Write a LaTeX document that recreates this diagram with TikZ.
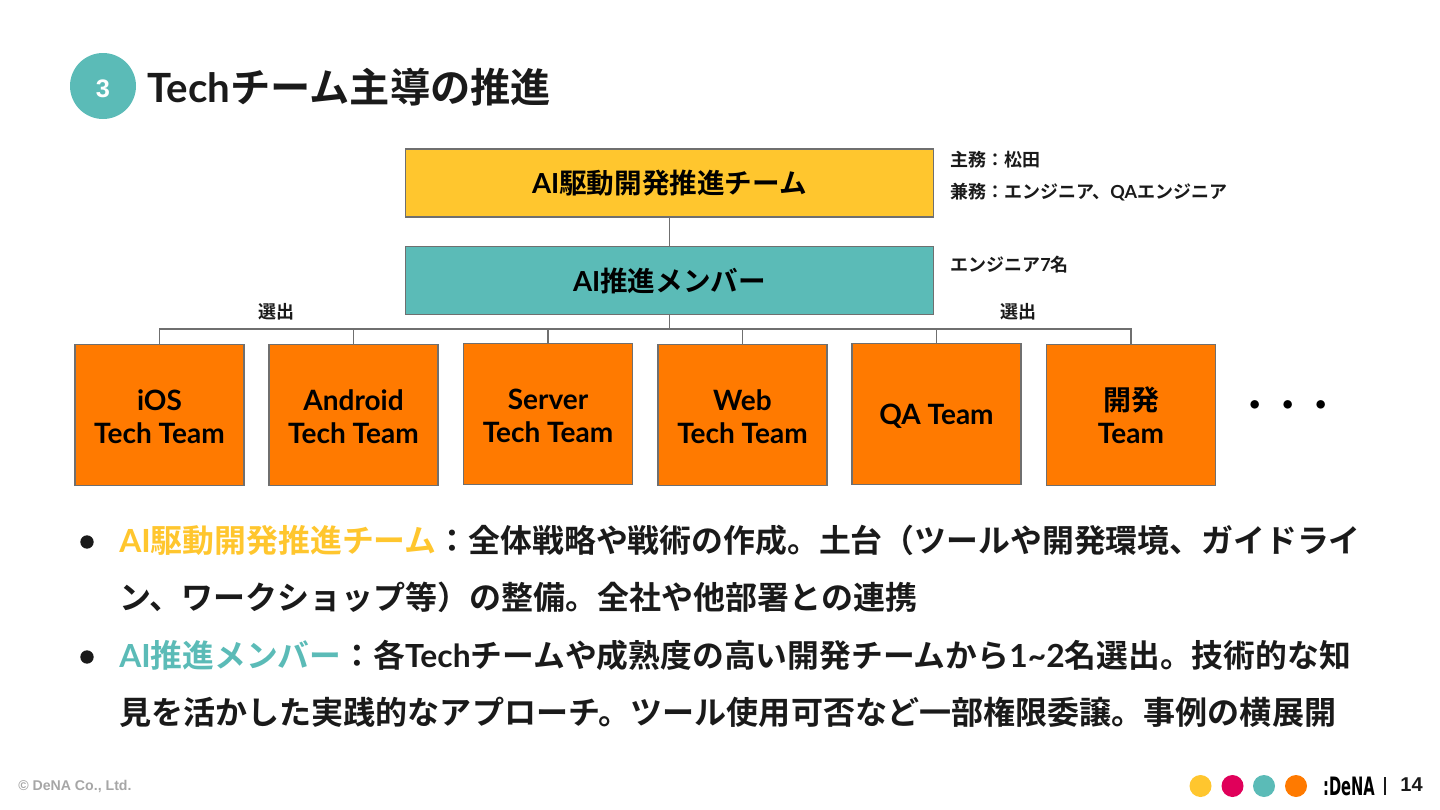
\documentclass[tikz,border=0pt]{standalone}
\usepackage{fontspec}
\setmainfont{Noto Sans CJK JP Bold}
\newfontfamily\latinfont{Liberation Sans}[BoldFont={Liberation Sans Bold}]
\newfontfamily\labelfont{Lato Bold}
\newfontfamily\logofont{DejaVu Sans Bold}[FakeStretch=0.58]
\newcommand{\lt}[1]{{\labelfont #1}}
\newcommand{\teamstrut}{\rule{0pt}{18.5pt}}
\definecolor{deyellow}{HTML}{FFC62E}
\definecolor{deteal}{HTML}{5BBBB7}
\definecolor{deorange}{HTML}{FF7A00}
\definecolor{depink}{HTML}{E0005A}
\definecolor{deink}{HTML}{1A1A1A}
\definecolor{degrey}{HTML}{6F6F6F}
\tikzset{
    teambox/.style={draw=degrey,line width=1.2pt,fill=deorange,minimum width=126.5pt,minimum height=106pt,inner sep=0pt,align=center,font=\fontsize{21}{25}\selectfont,text=black},
    headbox/.style={draw=degrey,line width=1.2pt,minimum width=396pt,minimum height=51pt,inner sep=0pt,font=\fontsize{20.7}{24}\selectfont,text=black},
    note/.style={anchor=west,inner sep=0pt,font=\fontsize{13.5}{16}\selectfont,text=deink},
    bodyline/.style={anchor=west,inner sep=0pt,font=\fontsize{24}{29}\selectfont,text=deink},
    bulletmark/.style={circle,fill=deink,minimum size=10pt,inner sep=0pt},
    link/.style={degrey,line width=1.2pt},
    dot/.style={circle,minimum size=16.5pt,inner sep=0pt}
}
\begin{document}
\begin{tikzpicture}[x=0.75pt,y=-0.75pt]
    \useasboundingbox (0,0) rectangle (1440,810);
    % title
    \node [circle,fill=deteal,minimum size=49.5pt,inner sep=0pt,text=white,font=\latinfont\bfseries\fontsize{19}{19}\selectfont] (num) at (103,86){\rule{0pt}{17pt}3};
    \node [anchor=west,inner sep=0pt,text=deink,font=\fontsize{30.2}{34}\selectfont] (title) at (147,87){\lt{Tech}チーム主導の推進};
    % head boxes
    \node [headbox,fill=deyellow] (lead) at (669.5,183){\lt{AI}駆動開発推進チーム};
    \node [headbox,fill=deteal] (member) at (669.5,280.5){\lt{AI}推進メンバー};
    \node [note] (note1) at (950,160){主務：松田};
    \node [note] (note2) at (950,192){兼務：エンジニア、\lt{QA}エンジニア};
    \node [note] (note3) at (950,265){エンジニア\lt{7}名};
    % teams
    \node [teambox] (ios) at (159.5,415){\teamstrut\lt{iOS}\\\lt{Tech Team}};
    \node [teambox] (android) at (353.5,415){\teamstrut\lt{Android}\\\lt{Tech Team}};
    \node [teambox] (server) at (548,414){\teamstrut\lt{Server}\\\lt{Tech Team}};
    \node [teambox] (web) at (742.5,415){\teamstrut\lt{Web}\\\lt{Tech Team}};
    \node [teambox] (qa) at (936.5,414){\teamstrut\lt{QA Team}};
    \node [teambox] (dev) at (1131,415){開発\\\lt{Team}};
    \node [inner sep=0pt,text=black,font=\fontsize{25}{25}\selectfont] (more) at (1288,409){・・・};
    % connectors
    \coordinate (bus) at (669.5,329);
    \draw[link] (lead)--(member);
    \draw[link] (member)--(bus);
    \draw[link] (bus)-|(ios);
    \draw[link] (bus)-|(android);
    \draw[link] (bus)-|(server);
    \draw[link] (bus)-|(web);
    \draw[link] (bus)-|(qa);
    \draw[link] (bus)-|(dev);
    \node [note,anchor=center] (pick1) at (276,312){選出};
    \node [note,anchor=center] (pick2) at (1018,312){選出};
    % body text
    \node [bulletmark] (mark1) at (87,542){};
    \node [bodyline,font=\fontsize{23.9}{29}\selectfont] (line1) at (119,540){\textcolor{deyellow}{\lt{AI}駆動開発推進チーム}：全体戦略や戦術の作成。土台（ツールや開発環境、ガイドライ};
    \node [bodyline] (line2) at (119,597){ン、ワークショップ等）の整備。全社や他部署との連携};
    \node [bulletmark] (mark2) at (87,657){};
    \node [bodyline,font=\fontsize{23.85}{29}\selectfont] (line3) at (119,655){\textcolor{deteal}{\lt{AI}推進メンバー}：各\lt{Tech}チームや成熟度の高い開発チームから\lt{1\textasciitilde2}名選出。技術的な知};
    \node [bodyline,font=\fontsize{24.05}{29}\selectfont] (line4) at (119,712){見を活かした実践的なアプローチ。ツール使用可否など一部権限委譲。事例の横展開};
    % footer
    \node [anchor=west,inner sep=0pt,text=black!35,font=\latinfont\bfseries\fontsize{10.6}{12}\selectfont] (copy) at (18,786){© DeNA Co., Ltd.};
    \node [dot,fill=deyellow] (dot1) at (1200.5,786){};
    \node [dot,fill=depink] (dot2) at (1232.5,786){};
    \node [dot,fill=deteal] (dot3) at (1264,786){};
    \node [dot,fill=deorange] (dot4) at (1296,786){};
    \node [inner sep=0pt,text=black,font=\logofont\fontsize{19}{19}\selectfont] (logo) at (1349,786){:DeNA};
    \node [inner sep=0pt,text=deink,font=\latinfont\bfseries\fontsize{15}{15}\selectfont] (page) at (1411.5,785){14};
    \coordinate (barA) at (1385,777);
    \coordinate (barB) at (1385,795);
    \draw[deink,line width=0.8pt] (barA)--(barB);
\end{tikzpicture}
\end{document}
